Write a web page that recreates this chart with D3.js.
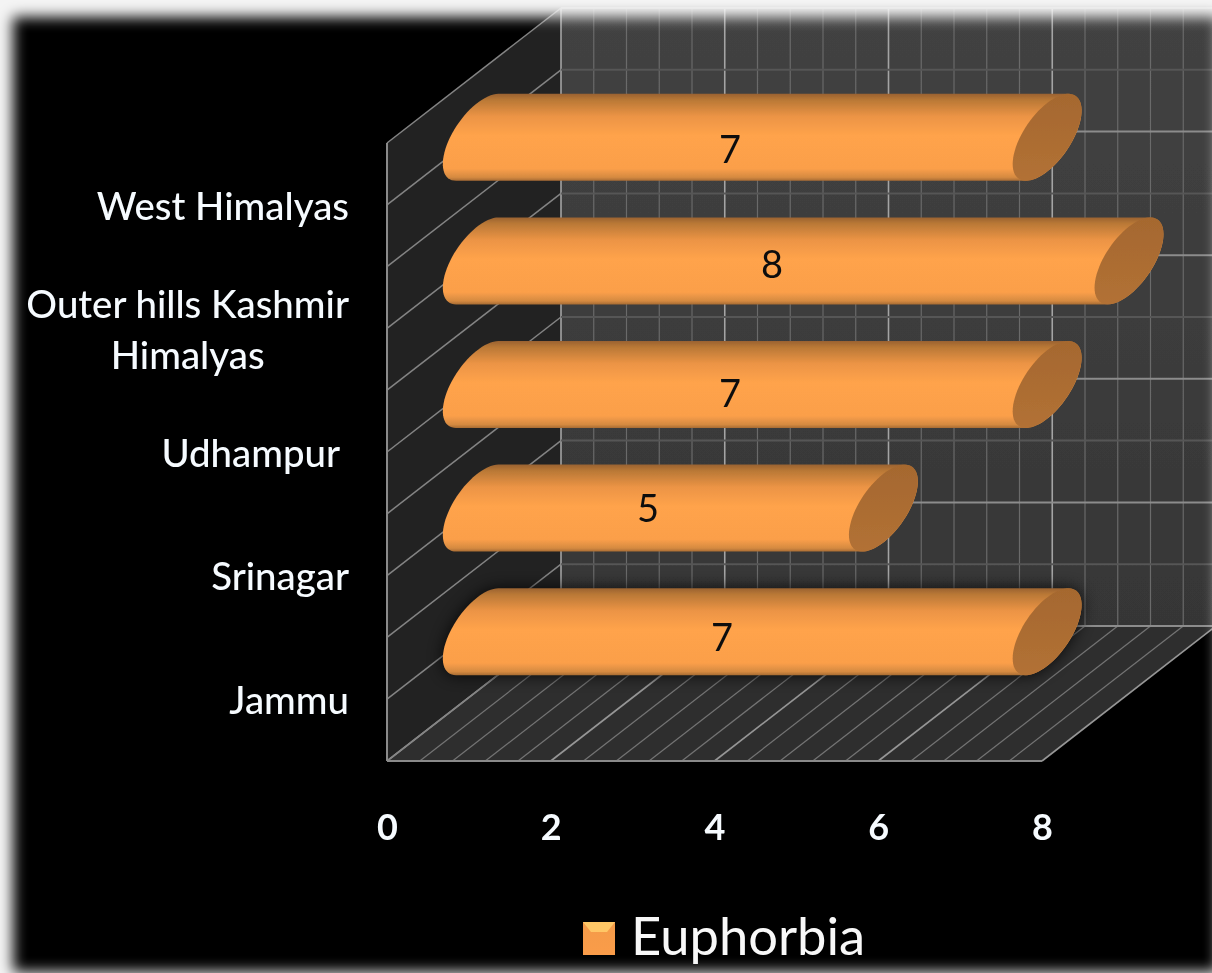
<!DOCTYPE html>
<html>
<head>
<meta charset="utf-8">
<title>Euphorbia</title>
<script src="https://cdn.jsdelivr.net/npm/d3@7"></script>
<style>
    html, body { margin: 0; padding: 0; background: #fff; overflow: hidden; }
    svg { display: block; }
    text { font-family: Lato, "Open Sans", sans-serif; }
</style>
</head>
<body>
<div id="chart"></div>
<script>
// chart data, listed bottom to top
const categories = ["Jammu", "Srinagar", "Udhampur ", "Outer hills Kashmir\nHimalyas", "West Himalyas"];
const values = [7, 5, 7, 8, 7];
const xTicks = [0, 2, 4, 6, 8];
const seriesName = "Euphorbia";

const width = 1212, height = 973;

// 3d box: front plane scales plus a depth shift
const depth = {x: 174, y: -135};
const x = d3.scaleLinear().domain([0, 8]).range([387, 1042]);
const yLevel = d3.scaleLinear().domain([0, categories.length]).range([761, 143]);
const yBand = d3.scaleBand().domain(categories).range([761, 143]);

const project = (v, level, d) => [x(v) + d * depth.x, yLevel(level) + d * depth.y];

const svg = d3.select("#chart").append("svg")
    .attr("width", width)
    .attr("height", height);

const defs = svg.append("defs");

function gradient(id, stops, horizontal) {
    let g = defs.append("linearGradient").attr("id", id)
        .attr("x1", 0).attr("y1", 0)
        .attr("x2", horizontal ? 1 : 0).attr("y2", horizontal ? 0 : 1);
    stops.forEach(s => g.append("stop").attr("offset", s[0]).attr("stop-color", s[1]));
}

gradient("barFill", [[0, "#9a6230"], [0.07, "#b97836"], [0.26, "#ec9445"], [0.48, "#ffa34b"],
    [0.86, "#fb9f4a"], [0.96, "#d58a41"], [1, "#a86c33"]]);
gradient("capFill", [[0, "#a5682f"], [1, "#b27135"]]);
gradient("wallFill", [[0, "#424242"], [1, "#363636"]]);
gradient("swatchFill", [[0, "#f49b4a"], [1, "#fa9c48"]]);

defs.append("filter").attr("id", "soft")
    .append("feGaussianBlur").attr("stdDeviation", 0.6);
defs.append("filter").attr("id", "shadow")
    .attr("x", "-10%").attr("y", "-30%").attr("width", "120%").attr("height", "160%")
    .append("feGaussianBlur").attr("stdDeviation", 8);
defs.append("filter").attr("id", "edge")
    .attr("filterUnits", "userSpaceOnUse")
    .attr("x", -200).attr("y", -200).attr("width", width + 400).attr("height", height + 400)
    .append("feGaussianBlur").attr("stdDeviation", 7);

// black backdrop
svg.append("rect").attr("width", width).attr("height", height).attr("fill", "#000");

const polygon = pts => "M" + pts.map(p => p.join(",")).join("L") + "Z";
const topLevel = categories.length;

// walls and floor
const box = svg.append("g").attr("class", "box").attr("filter", "url(#soft)");

box.append("path")
    .attr("d", polygon([project(0, 0, 1), project(8, 0, 1), project(8, topLevel, 1), project(0, topLevel, 1)]))
    .attr("fill", "url(#wallFill)");
box.append("path")
    .attr("d", polygon([project(0, 0, 0), project(0, 0, 1), project(0, topLevel, 1), project(0, topLevel, 0)]))
    .attr("fill", "#232323");
box.append("path")
    .attr("d", polygon([project(0, 0, 0), project(8, 0, 0), project(8, 0, 1), project(0, 0, 1)]))
    .attr("fill", "#2f2f2f");

function segment(a, b, color, w) {
    box.append("line")
        .attr("x1", a[0]).attr("y1", a[1])
        .attr("x2", b[0]).attr("y2", b[1])
        .attr("stroke", color)
        .attr("stroke-width", w);
}

// gridlines, minor every 0.4 along x and half a category along y
d3.range(0, 21).forEach(i => {
    let v = i * 0.4;
    let major = i % 5 === 0;
    segment(project(v, 0, 1), project(v, topLevel, 1), major ? "#a4a4a4" : "#6a6a6a", major ? 1.6 : 1.2);
    segment(project(v, 0, 0), project(v, 0, 1), major ? "#969696" : "#747474", major ? 1.6 : 1.2);
});
d3.range(0, topLevel * 2 + 1).forEach(i => {
    let level = i / 2;
    let major = i % 2 === 0;
    segment(project(0, level, 1), project(8, level, 1), major ? "#8c8c8c" : "#565656", 2);
    segment(project(0, level, 0), project(0, level, 1), "#848484", 1.5);
});
segment(project(0, 0, 0), project(8, 0, 0), "#8a8a8a", 2);
segment(project(0, 0, 0), project(0, topLevel, 0), "#8a8a8a", 2);

// cylinders
const barStart = 0.04;
const capDepth = 0.198;   // cylinder radius, as part of the box depth
const capHeight = 34.3;   // vertical half axis of the cap

const capPoint = (cx, cy, t) => [
    cx + capDepth * depth.x * Math.cos(t),
    cy + capDepth * depth.y * Math.cos(t) + capHeight * Math.sin(t)
];
// angle where the tilted cap reaches its highest point
const tTop = Math.atan2(-capHeight, capDepth * -depth.y);
const capLine = d3.line();

const barCentre = v => project(v, 0, 0.5)[0];
const barMiddle = name => yBand(name) + yBand.bandwidth() / 2 + depth.y * 0.5;

function bodyPath(d) {
    let y = barMiddle(d.name);
    let left = d3.range(0, 37).map(i => capPoint(barCentre(barStart), y, tTop - i * Math.PI / 36));
    let right = d3.range(0, 37).map(i => capPoint(barCentre(d.value), y, tTop - Math.PI - i * Math.PI / 36));
    return capLine(left.concat(right)) + "Z";
}

function capPath(d) {
    let y = barMiddle(d.name);
    return capLine(d3.range(0, 72).map(i => capPoint(barCentre(d.value), y, i * Math.PI / 36))) + "Z";
}

const barData = categories.map((name, i) => ({name: name, value: values[i]}));

// only the front bar throws a visible shadow on the side wall
svg.append("path")
    .datum(barData[0])
    .attr("d", bodyPath)
    .attr("fill", "#000")
    .attr("opacity", 0.8)
    .attr("filter", "url(#shadow)");

const bars = svg.append("g").attr("class", "bars")
    .selectAll("g")
    .data(barData)
    .join("g")
    .attr("filter", "url(#soft)");

bars.append("path").attr("d", bodyPath).attr("fill", "url(#barFill)");
bars.append("path").attr("d", capPath).attr("fill", "url(#capFill)");

// value labels sit a little off centre in the original, one offset per bar
const labelShift = [[-9, 5.5], [-1, 0.5], [-1, 8.5], [0, 3.5], [-1, 12.5]];

bars.append("text")
    .attr("x", (d, i) => x(d.value / 2) + 0.33 * depth.x + labelShift[i][0])
    .attr("y", (d, i) => barMiddle(d.name) + labelShift[i][1])
    .attr("dy", "0.36em")
    .attr("text-anchor", "middle")
    .attr("font-size", 38)
    .attr("fill", "#111")
    .text(d => d.value);

// x axis
const xAxis = svg.append("g")
    .attr("class", "axis axis--x")
    .attr("transform", "translate(0,827)")
    .call(d3.axisBottom(x).tickValues(xTicks).tickSize(0).tickPadding(0).tickFormat(d3.format("d")));
xAxis.select(".domain").remove();
xAxis.selectAll("text")
    .attr("y", 0)
    .attr("dy", "0.36em")
    .attr("font-family", "Lato")
    .attr("font-size", 36)
    .attr("font-weight", 700)
    .attr("fill", "#f6fbff")
    .attr("filter", "url(#soft)");

// category labels, right aligned, wrapped labels centred on their longest line
const labelRight = 349;
svg.append("g").attr("class", "axis axis--y")
    .selectAll("text")
    .data(categories)
    .join("text")
    .attr("font-size", 38.4)
    .attr("font-weight", 500)
    .attr("fill", "#f6fbff")
    .attr("filter", "url(#soft)")
    .style("white-space", "pre")
    .each(function(d) {
        let label = d3.select(this);
        let lines = d.split("\n");
        let middle = yBand(d) + yBand.bandwidth() / 2 + 1;
        let spans = lines.map((line, i) => label.append("tspan")
            .attr("y", middle + (i - (lines.length - 1) / 2) * 51)
            .attr("dy", "0.36em")
            .text(line));
        let longest = d3.max(spans, s => s.node().getComputedTextLength());
        spans.forEach(s => {
            let w = s.node().getComputedTextLength();
            s.attr("x", labelRight - longest / 2 - w / 2);
        });
    });

// legend
const legend = svg.append("g").attr("class", "legend").attr("filter", "url(#soft)");
legend.append("rect")
    .attr("x", 583).attr("y", 922).attr("width", 32).attr("height", 33)
    .attr("fill", "url(#swatchFill)");
legend.append("path")
    .attr("d", "M583,922L615,922L607,932L591,932Z")
    .attr("fill", "#ffc766");
legend.append("text")
    .attr("x", 631).attr("y", 955)
    .attr("font-size", 52.5)
    .attr("fill", "#f8f8f8")
    .text(seriesName);

// pale blurred frame over everything
svg.append("path")
    .attr("d", "M-150,-150H" + (width + 150) + "V" + (height + 150) + "H-150Z" +
        "M13,17H1218V972H13Z")
    .attr("fill-rule", "evenodd")
    .attr("fill", "#f4f4f4")
    .attr("filter", "url(#edge)");
</script>
</body>
</html>
